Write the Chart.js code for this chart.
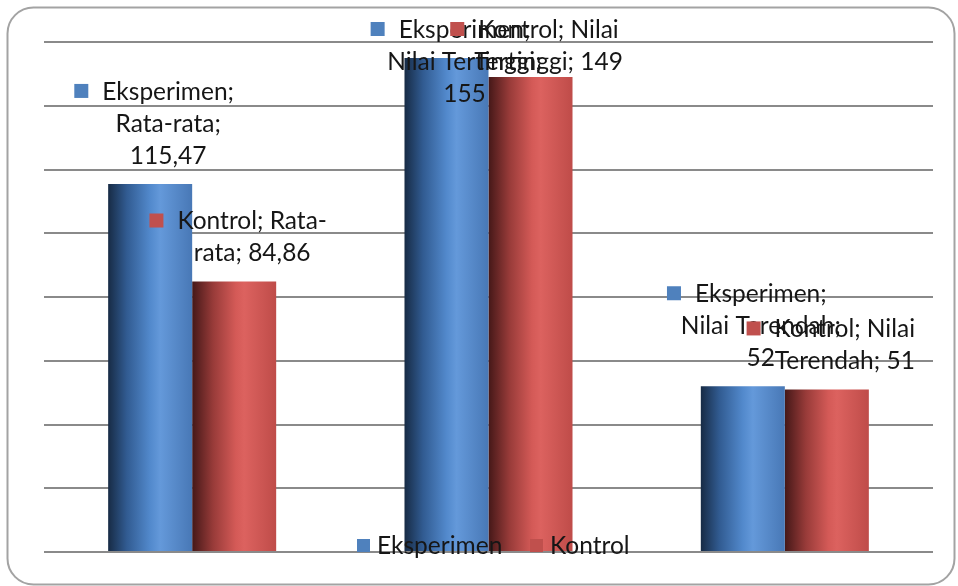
<!DOCTYPE html>
<html lang="id">
<head>
    <meta charset="UTF-8">
    <title>Eksperimen vs Kontrol</title>
    <script src="https://cdn.jsdelivr.net/npm/chart.js"></script>
    <style>
        html, body { margin: 0; padding: 0; background: #ffffff; }
        #wrap { width: 958px; height: 586px; }
    </style>
</head>
<body>
    <div id="wrap"><canvas id="chart" width="958" height="586"></canvas></div>

    <script>
        // data
        const categories = ['Rata-rata', 'Nilai Tertinggi', 'Nilai Terendah'];
        const seriesNames = ['Eksperimen', 'Kontrol'];
        const eksperimen = [115.47, 155, 52];
        const kontrol = [84.86, 149, 51];
        const yTicks = [0, 20, 40, 60, 80, 100, 120, 140, 160];

        const markerColors = ['#4f81bd', '#c0504d'];
        const gradStops = [
            [[0, '#172b45'], [0.22, '#315b91'], [0.5, '#5289cc'], [0.62, '#6499da'], [1, '#4878b6']],
            [[0, '#451818'], [0.25, '#983b39'], [0.52, '#d45a57'], [0.62, '#dc625f'], [1, '#bf4c49']]
        ];
        const FONT = '24.5px Lato, "Open Sans", sans-serif';
        const LINE_H = 32;
        const WRAP_W = 166;
        const CAT_PCT = 0.567;

        function fmt(v) {
            return String(v).replace('.', ',');
        }

        // bar fill: horizontal "cylinder" gradient, built from the x scale
        function barFill(ctx) {
            const chart = ctx.chart;
            const xs = chart.scales.x;
            if (!xs || !chart.chartArea) return markerColors[ctx.datasetIndex];
            const center = xs.getPixelForValue(ctx.dataIndex);
            const w = (xs.width / categories.length) * CAT_PCT / 2;
            const left = ctx.datasetIndex === 0 ? center - w : center;
            const g = chart.ctx.createLinearGradient(left, 0, left + w, 0);
            gradStops[ctx.datasetIndex].forEach(s => g.addColorStop(s[0], s[1]));
            return g;
        }

        // simple word wrap, can break after a space or a hyphen
        function wrap(c, text, maxW) {
            const pieces = text.match(/[^\s-]+-?\s*|\s+/g);
            const lines = [];
            let cur = '';
            pieces.forEach(p => {
                const test = cur + p;
                if (cur && c.measureText(test.trimEnd()).width > maxW) {
                    lines.push(cur.trimEnd());
                    cur = p;
                } else {
                    cur = test;
                }
            });
            if (cur.trim()) lines.push(cur.trimEnd());
            return lines;
        }

        const framePlugin = {
            id: 'frame',
            beforeDraw(chart) {
                const c = chart.ctx;
                c.save();
                c.fillStyle = '#ffffff';
                c.fillRect(0, 0, chart.width, chart.height);
                c.beginPath();
                c.roundRect(7.5, 7.5, 947, 577, 26);
                c.lineWidth = 2;
                c.strokeStyle = '#a3a3a3';
                c.stroke();
                c.restore();
            }
        };

        // excel style data labels (legend key + series; category; value) and bottom legend
        const labelPlugin = {
            id: 'excelLabels',
            afterDatasetsDraw(chart) {
                const c = chart.ctx;
                c.save();
                c.font = FONT;
                c.textAlign = 'center';
                c.textBaseline = 'middle';
                chart.data.datasets.forEach((ds, di) => {
                    const meta = chart.getDatasetMeta(di);
                    meta.data.forEach((bar, i) => {
                        const text = ds.label + '; ' + categories[i] + '; ' + fmt(ds.data[i]);
                        const lines = wrap(c, text, WRAP_W);
                        const cx = bar.x + 18;
                        let y0 = bar.y - 12 - LINE_H / 2 - (lines.length - 1) * LINE_H;
                        y0 = Math.max(y0, 30);
                        lines.forEach((ln, k) => {
                            c.fillStyle = '#161616';
                            c.fillText(ln, cx, y0 + k * LINE_H);
                        });
                        const w0 = c.measureText(lines[0]).width;
                        c.fillStyle = markerColors[di];
                        c.fillRect(cx - w0 / 2 - 28, y0 - 8, 14, 14);
                    });
                });

                // legend along the bottom gridline
                const items = [
                    { x: 357, name: seriesNames[0], color: markerColors[0] },
                    { x: 530, name: seriesNames[1], color: markerColors[1] }
                ];
                c.textAlign = 'left';
                const ly = chart.chartArea.bottom - 6;
                items.forEach(it => {
                    c.fillStyle = it.color;
                    c.fillRect(it.x, ly - 7, 13, 13);
                    c.fillStyle = '#161616';
                    c.fillText(it.name, it.x + 20, ly);
                });
                c.restore();
            }
        };

        new Chart(document.getElementById('chart'), {
            type: 'bar',
            data: {
                labels: categories,
                datasets: [
                    { label: seriesNames[0], data: eksperimen, backgroundColor: barFill },
                    { label: seriesNames[1], data: kontrol, backgroundColor: barFill }
                ]
            },
            options: {
                responsive: false,
                animation: false,
                events: [],
                layout: { padding: { left: 44, right: 25, top: 42, bottom: 34 } },
                datasets: {
                    bar: { categoryPercentage: CAT_PCT, barPercentage: 1, borderWidth: 0 }
                },
                plugins: {
                    legend: { display: false },
                    tooltip: { enabled: false }
                },
                scales: {
                    x: {
                        display: true,
                        grid: { display: false, drawTicks: false },
                        border: { display: false },
                        ticks: { display: false }
                    },
                    y: {
                        min: yTicks[0],
                        max: yTicks[yTicks.length - 1],
                        afterBuildTicks: axis => { axis.ticks = yTicks.map(v => ({ value: v })); },
                        grid: { color: '#8a8a8a', lineWidth: 2, drawTicks: false },
                        border: { display: false },
                        ticks: { display: false }
                    }
                }
            },
            plugins: [framePlugin, labelPlugin]
        });
    </script>
</body>
</html>
